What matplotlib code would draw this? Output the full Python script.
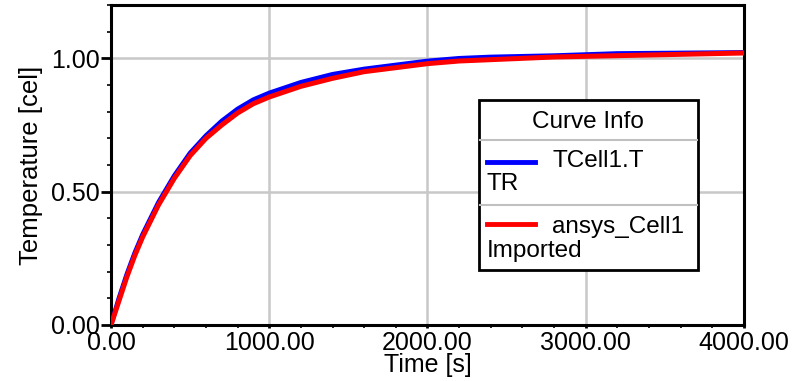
import matplotlib
matplotlib.use("Agg")
import matplotlib.pyplot as plt
from matplotlib.ticker import MultipleLocator, FormatStrFormatter
from matplotlib.patches import Rectangle
from matplotlib.lines import Line2D

plt.rcParams['font.family'] = ['Liberation Sans', 'DejaVu Sans']

# values
time_s = [0, 50, 100, 150, 200, 300, 400, 500, 600, 700, 800, 900, 1000,
          1200, 1400, 1600, 1800, 2000, 2200, 2400, 2800, 3200, 3600, 4000]
tcell_tr = [0.0, 0.10, 0.19, 0.27, 0.34, 0.46, 0.56, 0.645, 0.71, 0.765, 0.81,
            0.845, 0.87, 0.91, 0.94, 0.96, 0.975, 0.99, 1.0, 1.005, 1.01,
            1.018, 1.02, 1.022]
ansys_imp = [0.0, 0.09, 0.18, 0.26, 0.33, 0.45, 0.55, 0.635, 0.70, 0.75, 0.795,
             0.83, 0.855, 0.895, 0.925, 0.95, 0.965, 0.98, 0.99, 0.995, 1.005,
             1.01, 1.015, 1.02]

fig = plt.figure(figsize=(8.04, 3.81), dpi=100)
ax = fig.add_axes([111/804, 1 - 325/381, (744-111)/804, (325-5)/381])

ax.plot(time_s, tcell_tr, color='#0000ff', lw=3.4, zorder=3)
ax.plot(time_s, ansys_imp, color='#ff0000', lw=3.6, zorder=4)

ax.set_xlim(0, 4000)
ax.set_ylim(0, 1.2)
ax.xaxis.set_major_locator(MultipleLocator(1000))
ax.xaxis.set_minor_locator(MultipleLocator(200))
ax.yaxis.set_major_locator(MultipleLocator(0.5))
ax.yaxis.set_minor_locator(MultipleLocator(0.1))
ax.xaxis.set_major_formatter(FormatStrFormatter('%.2f'))
ax.yaxis.set_major_formatter(FormatStrFormatter('%.2f'))
ax.grid(True, which='major', color='#c8c8c8', lw=1.8)
ax.set_axisbelow(True)
for s in ax.spines.values():
    s.set_linewidth(2.2)
ax.tick_params(which='major', length=7, width=2, labelsize=18, pad=1)
ax.tick_params(axis='x', which='major', length=2.5, pad=2)
ax.tick_params(which='minor', length=3, width=1.2)
ax.tick_params(axis='x', which='minor', length=2)
ax.set_xlabel('Time [s]', fontsize=18, va='center')
ax.xaxis.set_label_coords(0.5, -0.126)
ax.set_ylabel('Temperature [cel]', fontsize=18.5, va='center')
ax.yaxis.set_label_coords(-0.126, 0.5)

# legend box drawn by hand (figure pixel coordinates)
def fx(px):
    return px / 804

def fy(py):
    return 1 - py / 381

fig.patches.append(Rectangle((fx(479), fy(270)), fx(698) - fx(479), fy(100) - fy(270),
                             transform=fig.transFigure, facecolor='white',
                             edgecolor='black', lw=2, zorder=10))
for py in (140, 205):
    fig.lines.append(Line2D([fx(480), fx(697)], [fy(py), fy(py)],
                            transform=fig.transFigure, color='#c0c0c0', lw=1.5, zorder=11))
fig.text(fx(588), fy(122), 'Curve Info', ha='center', va='center', fontsize=17.5, zorder=12)
fig.lines.append(Line2D([fx(487), fx(535)], [fy(162), fy(162)],
                        transform=fig.transFigure, color='#0000ff', lw=3.5, zorder=12))
fig.text(fx(553), fy(161), 'TCell1.T', ha='left', va='center', fontsize=17.5, zorder=12)
fig.text(fx(487), fy(184), 'TR', ha='left', va='center', fontsize=17.5, zorder=12)
fig.lines.append(Line2D([fx(487), fx(535)], [fy(224), fy(224)],
                        transform=fig.transFigure, color='#ff0000', lw=3.5, zorder=12))
fig.text(fx(552), fy(227), 'ansys_Cell1', ha='left', va='center', fontsize=17.5, zorder=12)
fig.text(fx(487), fy(251), 'Imported', ha='left', va='center', fontsize=17.5, zorder=12)

plt.savefig('out.png', dpi=100)
